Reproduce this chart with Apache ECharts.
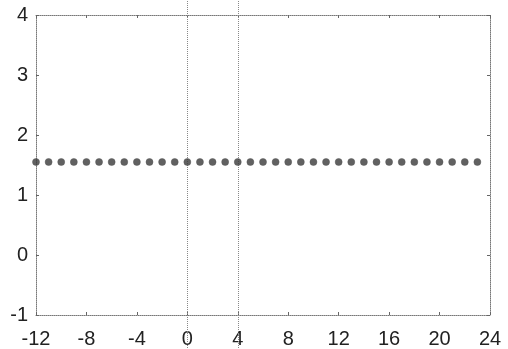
<!DOCTYPE html>
<html>
<head>
<meta charset="utf-8">
<script src="https://cdn.jsdelivr.net/npm/echarts@6/dist/echarts.min.js"></script>
<style>
  html, body { margin: 0; padding: 0; background: #fff; }
  #chart { width: 508px; height: 349px; }
</style>
</head>
<body>
<div id="chart"></div>
<script>
// Sample positions and their (constant) values
const xValues = [-12, -11, -10, -9, -8, -7, -6, -5, -4, -3, -2, -1, 0, 1, 2, 3, 4, 5,
                 6, 7, 8, 9, 10, 11, 12, 13, 14, 15, 16, 17, 18, 19, 20, 21, 22, 23];
const yValues = [1.55, 1.55, 1.55, 1.55, 1.55, 1.55, 1.55, 1.55, 1.55, 1.55, 1.55, 1.55,
                 1.55, 1.55, 1.55, 1.55, 1.55, 1.55, 1.55, 1.55, 1.55, 1.55, 1.55, 1.55,
                 1.55, 1.55, 1.55, 1.55, 1.55, 1.55, 1.55, 1.55, 1.55, 1.55, 1.55, 1.55];
// Reference verticals (x position, lower and upper extent in data units)
const guideLines = [[0, -1.55, 4.25], [4, -1.55, 4.25]];

const X_MIN = -12, X_MAX = 24, X_STEP = 4;
const Y_MIN = -1, Y_MAX = 4, Y_STEP = 1;

const points = xValues.map((x, i) => [x, yValues[i]]);

const font = 'Liberation Sans, Arial, sans-serif';
const frameLine = { show: true, onZero: false, lineStyle: { color: '#777', width: 1, type: [1, 1] } };
const innerTick = { show: true, inside: true, length: 3, lineStyle: { color: '#666' } };

const chart = echarts.init(document.getElementById('chart'), null, { renderer: 'canvas' });
chart.setOption({
  backgroundColor: '#fff',
  animation: false,
  grid: { left: 36, top: 15, right: 18, bottom: 32 },
  xAxis: [
    {
      type: 'value', position: 'bottom', min: X_MIN, max: X_MAX, interval: X_STEP,
      axisLine: frameLine, axisTick: innerTick, splitLine: { show: false },
      axisLabel: { color: '#222', fontSize: 20, fontFamily: font, margin: 14 }
    },
    {
      type: 'value', position: 'top', min: X_MIN, max: X_MAX, interval: X_STEP,
      axisLine: frameLine, axisTick: innerTick, splitLine: { show: false },
      axisLabel: { show: false }
    }
  ],
  yAxis: [
    {
      type: 'value', position: 'left', min: Y_MIN, max: Y_MAX, interval: Y_STEP,
      axisLine: frameLine, axisTick: innerTick, splitLine: { show: false },
      axisLabel: { color: '#222', fontSize: 20, fontFamily: font, margin: 8 }
    },
    {
      type: 'value', position: 'right', min: Y_MIN, max: Y_MAX, interval: Y_STEP,
      axisLine: frameLine, axisTick: innerTick, splitLine: { show: false },
      axisLabel: { show: false }
    }
  ],
  series: [
    {
      type: 'custom',
      xAxisIndex: 0, yAxisIndex: 0,
      clip: false,
      silent: true,
      data: guideLines,
      renderItem: function (params, api) {
        const lo = api.coord([api.value(0), api.value(1)]);
        const hi = api.coord([api.value(0), api.value(2)]);
        return {
          type: 'line',
          shape: { x1: Math.round(lo[0]) + 0.5, y1: lo[1], x2: Math.round(hi[0]) + 0.5, y2: hi[1] },
          style: { stroke: '#888', lineWidth: 1, lineDash: [1, 1] }
        };
      },
      z: 1
    },
    {
      type: 'scatter',
      xAxisIndex: 0, yAxisIndex: 0,
      data: points,
      symbol: 'circle',
      symbolSize: 7,
      itemStyle: { color: '#3a3a3a', borderColor: '#555', borderWidth: 0.6 },
      z: 3
    }
  ]
});
</script>
</body>
</html>
